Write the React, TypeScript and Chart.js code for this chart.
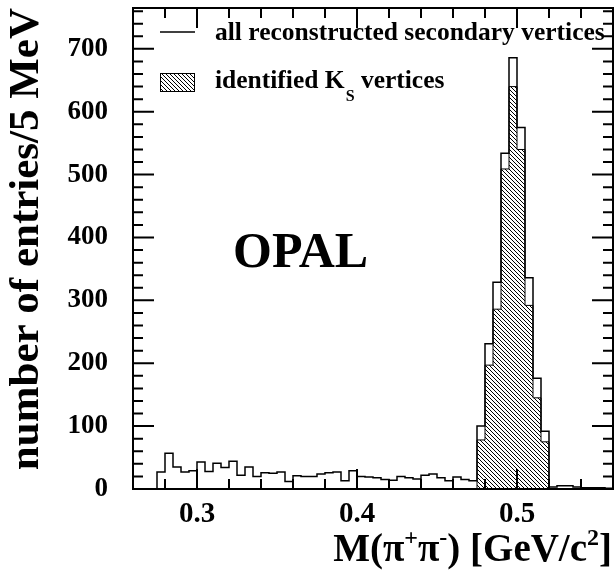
import { useEffect, useRef } from 'react';
import { Chart, registerables } from 'chart.js';

Chart.register(...registerables);

// Histogram bins (low edges, GeV/c^2), 5 MeV wide
const binLowEdges = [
  0.275, 0.28, 0.285, 0.29, 0.295, 0.3, 0.305, 0.31, 0.315, 0.32,
  0.325, 0.33, 0.335, 0.34, 0.345, 0.35, 0.355, 0.36, 0.365, 0.37,
  0.375, 0.38, 0.385, 0.39, 0.395, 0.4, 0.405, 0.41, 0.415, 0.42,
  0.425, 0.43, 0.435, 0.44, 0.445, 0.45, 0.455, 0.46, 0.465, 0.47,
  0.475, 0.48, 0.485, 0.49, 0.495, 0.5, 0.505, 0.51, 0.515, 0.52,
  0.525, 0.53, 0.535, 0.54, 0.545, 0.55, 0.555,
];
const binWidth = 0.005;

// all reconstructed secondary vertices
const allVertices = [
  27, 57, 35, 27, 29, 43, 28, 41, 34, 44,
  22, 35, 20, 26, 25, 27, 12, 21, 20, 20,
  24, 26, 27, 13, 29, 20, 19, 18, 15, 14,
  20, 18, 16, 22, 24, 18, 13, 19, 15, 13,
  100, 231, 329, 534, 686, 575, 336, 176, 92, 3,
  5, 5, 3, 2, 2, 2, 1,
];

// identified K_S vertices
const ksVertices = [
  0, 0, 0, 0, 0, 0, 0, 0, 0, 0,
  0, 0, 0, 0, 0, 0, 0, 0, 0, 0,
  0, 0, 0, 0, 0, 0, 0, 0, 0, 0,
  0, 0, 0, 0, 0, 0, 0, 0, 0, 0,
  78, 197, 286, 509, 640, 540, 292, 145, 75, 0,
  0, 0, 0, 0, 0, 0, 0,
];

const xMin = 0.26;
const xMax = 0.56;
const yMin = 0;
const yMax = 765;
const xMajorTicks = [0.3, 0.4, 0.5];
const xTickLabels = ['0.3', '0.4', '0.5'];
const xMinorTicks = [0.26, 0.28, 0.32, 0.34, 0.36, 0.38, 0.42, 0.44, 0.46, 0.48, 0.52, 0.54, 0.56];
const yMajorTicks = [0, 100, 200, 300, 400, 500, 600, 700];
const yMinorTicks = [
  20, 40, 60, 80, 120, 140, 160, 180, 220, 240, 260, 280, 320, 340, 360, 380,
  420, 440, 460, 480, 520, 540, 560, 580, 620, 640, 660, 680, 720, 740, 760,
];

const legendAll = 'all reconstructed secondary vertices';
const legendKsMain = 'identified K';
const legendKsSub = 'S';
const legendKsRest = ' vertices';
const experimentLabel = 'OPAL';
const yTitle = 'number of entries/5 MeV';

const SERIF = '"Liberation Serif", "Times New Roman", serif';

function stepPoints(values: number[]) {
  const pts: { x: number; y: number }[] = [];
  let first = -1;
  let last = -1;
  values.forEach((v, i) => {
    if (v > 0) {
      if (first < 0) first = i;
      last = i;
    }
  });
  if (first < 0) return pts;
  pts.push({ x: binLowEdges[first], y: 0 });
  for (let i = first; i <= last; i++) pts.push({ x: binLowEdges[i], y: values[i] });
  pts.push({ x: binLowEdges[last] + binWidth, y: 0 });
  return pts;
}

function makeHatch(): CanvasPattern | string {
  const pc = document.createElement('canvas');
  pc.width = 4;
  pc.height = 4;
  const pctx = pc.getContext('2d');
  if (!pctx) return '#888';
  const img = pctx.createImageData(4, 4);
  for (let i = 0; i < 4; i++) {
    const idx = (i * 4 + i) * 4;
    img.data[idx] = 0;
    img.data[idx + 1] = 0;
    img.data[idx + 2] = 0;
    img.data[idx + 3] = 255;
  }
  pctx.putImageData(img, 0, 0);
  const pat = pctx.createPattern(pc, 'repeat');
  return pat || '#888';
}

export default function App() {
  const canvasRef = useRef<HTMLCanvasElement | null>(null);

  useEffect(() => {
    const canvas = canvasRef.current;
    if (!canvas) return;
    const hatch = makeHatch();

    const decorations = {
      id: 'decorations',
      afterDatasetsDraw(chart: any) {
        const { ctx, chartArea: a, scales } = chart;
        const x = scales.x;
        const y = scales.y;
        ctx.save();
        ctx.strokeStyle = '#000';
        ctx.lineWidth = 2;
        ctx.beginPath();
        const xt = (v: number, len: number) => {
          const px = x.getPixelForValue(v);
          ctx.moveTo(px, a.bottom);
          ctx.lineTo(px, a.bottom - len);
          ctx.moveTo(px, a.top);
          ctx.lineTo(px, a.top + len);
        };
        const yt = (v: number, len: number) => {
          const py = y.getPixelForValue(v);
          ctx.moveTo(a.left, py);
          ctx.lineTo(a.left + len, py);
          ctx.moveTo(a.right, py);
          ctx.lineTo(a.right - len, py);
        };
        xMajorTicks.forEach((v) => xt(v, 20));
        xMinorTicks.forEach((v) => xt(v, 10));
        yMajorTicks.forEach((v) => yt(v, 21));
        yMinorTicks.forEach((v) => yt(v, 10));
        ctx.stroke();
        ctx.strokeRect(a.left, a.top, a.right - a.left, a.bottom - a.top);

        // legend
        ctx.fillStyle = '#000';
        ctx.lineWidth = 1.5;
        ctx.beginPath();
        ctx.moveTo(a.left + 27, a.top + 24);
        ctx.lineTo(a.left + 62, a.top + 24);
        ctx.stroke();
        ctx.fillStyle = hatch as any;
        ctx.fillRect(a.left + 27, a.top + 65, 35, 19);
        ctx.lineWidth = 1;
        ctx.strokeRect(a.left + 27.5, a.top + 65.5, 34, 18);
        ctx.fillStyle = '#000';
        ctx.textBaseline = 'alphabetic';
        ctx.textAlign = 'left';
        ctx.font = `bold 25.5px ${SERIF}`;
        ctx.fillText(legendAll, a.left + 82, a.top + 32);
        let tx = a.left + 82;
        ctx.fillText(legendKsMain, tx, a.top + 80);
        tx += ctx.measureText(legendKsMain).width + 1;
        ctx.font = `bold 16px ${SERIF}`;
        ctx.fillText(legendKsSub, tx, a.top + 93);
        tx += ctx.measureText(legendKsSub).width;
        ctx.font = `bold 25.5px ${SERIF}`;
        ctx.fillText(legendKsRest, tx, a.top + 80);

        // experiment label
        ctx.font = `bold 50px ${SERIF}`;
        ctx.fillText(experimentLabel, a.left + 100, a.top + 259);

        // x-axis title with superscripts, right aligned
        const parts: [string, boolean][] = [
          ['M(\u03c0', false], ['+', true], ['\u03c0', false], ['-', true],
          [') [GeV/c', false], ['2', true], [']', false],
        ];
        const big = `bold 39px ${SERIF}`;
        const small = `bold 24px ${SERIF}`;
        let total = 0;
        parts.forEach(([t, sup]) => {
          ctx.font = sup ? small : big;
          total += ctx.measureText(t).width;
        });
        let px = a.right - 1 - total;
        const base = a.bottom + 72;
        parts.forEach(([t, sup]) => {
          ctx.font = sup ? small : big;
          ctx.fillText(t, px, sup ? base - 16 : base);
          px += ctx.measureText(t).width;
        });
        ctx.restore();
      },
    };

    const chart = new Chart(canvas, {
      type: 'line',
      data: {
        datasets: [
          {
            label: legendAll,
            data: stepPoints(allVertices),
            stepped: 'before',
            borderColor: '#000',
            borderWidth: 1.5,
            pointRadius: 0,
            fill: false,
          },
          {
            label: 'identified KS vertices',
            data: stepPoints(ksVertices),
            stepped: 'before',
            borderColor: '#000',
            borderWidth: 1,
            pointRadius: 0,
            backgroundColor: hatch as any,
            fill: 'origin',
          },
        ],
      },
      options: {
        animation: false,
        responsive: false,
        devicePixelRatio: 1,
        layout: { autoPadding: false, padding: { top: 8, right: 2, left: 0, bottom: 0 } },
        plugins: {
          legend: { display: false },
          tooltip: { enabled: false },
        },
        scales: {
          x: {
            type: 'linear',
            min: xMin,
            max: xMax,
            grid: { display: false, drawTicks: false },
            border: { display: false },
            afterFit: (s: any) => {
              s.height = 82;
              s.paddingLeft = 0;
              s.paddingRight = 0;
            },
            afterBuildTicks: (s: any) => {
              s.ticks = xMajorTicks.map((v) => ({ value: v }));
            },
            ticks: {
              padding: 8,
              color: '#000',
              font: { family: SERIF, size: 29, weight: 'bold' },
              callback: (v: any) => {
                const i = xMajorTicks.findIndex((m) => Math.abs(m - v) < 1e-6);
                return i >= 0 ? xTickLabels[i] : '';
              },
            },
          },
          y: {
            type: 'linear',
            min: yMin,
            max: yMax,
            grid: { display: false, drawTicks: false },
            border: { display: false },
            afterFit: (s: any) => {
              s.width = 133;
              s.paddingTop = 0;
              s.paddingBottom = 0;
            },
            afterBuildTicks: (s: any) => {
              s.ticks = yMajorTicks.map((v) => ({ value: v }));
            },
            ticks: {
              padding: 25,
              color: '#000',
              font: { family: SERIF, size: 27, weight: 'bold' },
              callback: (v: any) => String(v),
            },
            title: {
              display: true,
              text: yTitle,
              align: 'end',
              color: '#000',
              padding: { top: 1, bottom: 0 },
              font: { family: SERIF, size: 43, weight: 'bold' },
            },
          },
        },
      },
      plugins: [decorations],
    } as any);

    return () => chart.destroy();
  }, []);

  return (
    <div style={{ position: 'absolute', left: 0, top: 0, width: 615, height: 571, background: '#fff' }}>
      <canvas ref={canvasRef} width={615} height={571} />
    </div>
  );
}
